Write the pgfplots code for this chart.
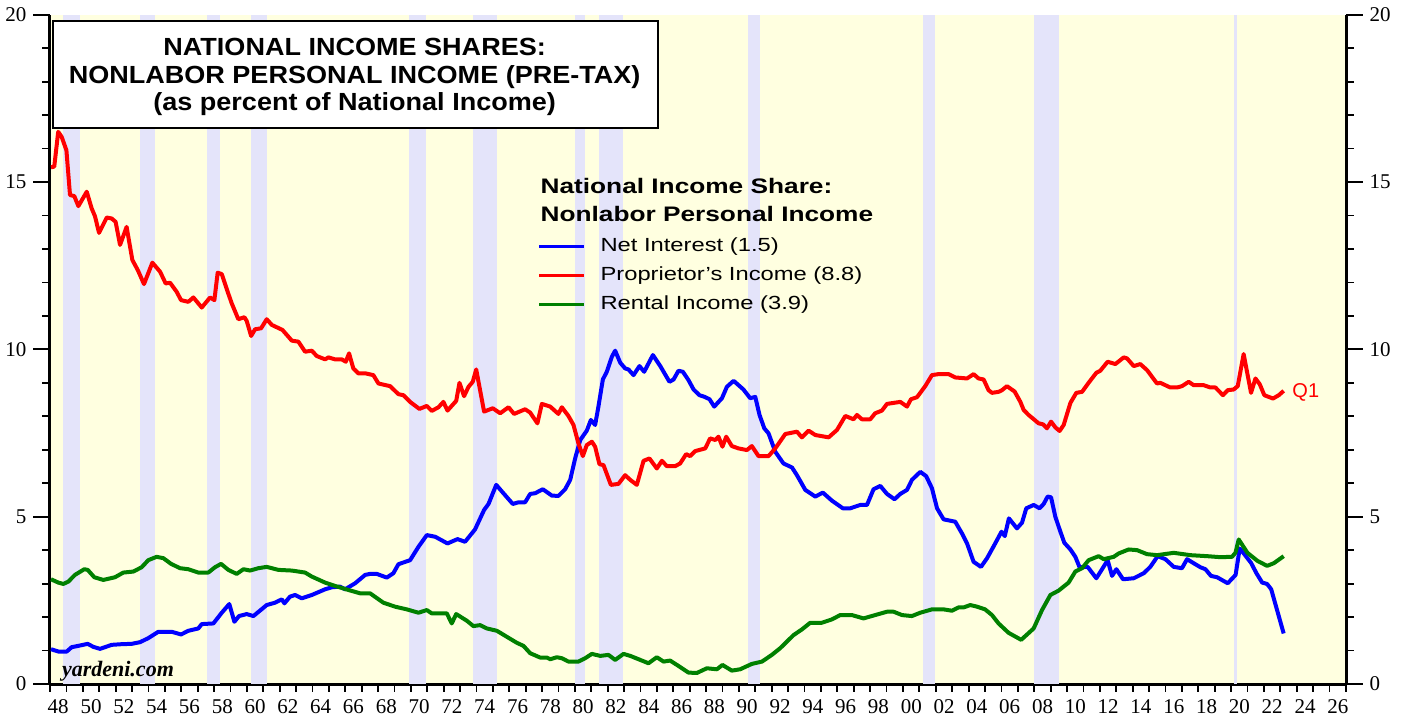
\documentclass[border=0pt]{standalone}
\usepackage{fontspec}
\setmainfont{Liberation Sans}
\newfontfamily\tickfont{Liberation Serif}
\newfontfamily\legfont[FakeStretch=1.25]{Liberation Sans}
\newfontfamily\titlefont[FakeStretch=1.09]{Liberation Sans}
\usepackage{pgfplots}
\pgfplotsset{compat=1.18}
\definecolor{bgyellow}{RGB}{255,255,224}
\definecolor{recess}{RGB}{228,228,250}
\definecolor{ngreen}{RGB}{0,128,0}

\pgfplotsset{
  base/.style={
    scale only axis, width=648pt, height=334.65pt,
    xmin=1948, xmax=2027, ymin=0, ymax=20,
    ytick={0,5,10,15,20}, minor y tick num=4,
    tick align=outside,
    major tick length=8.3pt, minor tick length=3.75pt,
    tick style={black, line width=0.9pt},
    axis line style={line width=1.5pt},
    yticklabel style={font=\tickfont\fontsize{10.5}{12}\selectfont},
    /pgf/number format/assume math mode=true,
  },
  recbar/.style={draw=none, fill=recess, forget plot},
}

\begin{document}
\begin{tikzpicture}
\begin{axis}[base,
    axis x line*=bottom, axis y line*=left,
    axis background/.style={fill=bgyellow},
    xtick={1948.5,1950.5,...,2026.5},
    xticklabels={48,50,52,54,56,58,60,62,64,66,68,70,72,74,76,78,80,82,84,86,88,90,92,94,96,98,00,02,04,06,08,10,12,14,16,18,20,22,24,26},
    major x tick style={draw=none},
    minor xtick={1948,1949,...,2027},
    xticklabel style={font=\tickfont\fontsize{10.5}{12}\selectfont, yshift=4pt},
    legend style={at={(0.3765,0.6668)}, anchor=north west, draw=none, fill=none,
      inner sep=0pt, outer sep=0pt, row sep=5.5pt, column sep=7.5pt,
      font=\legfont\fontsize{9.5}{11}\selectfont,
      nodes={inner sep=0pt, text height=7pt, text depth=2pt}},
    legend cell align=left,
    legend image code/.code={\draw[#1, line width=1.3pt] (0pt,0pt) -- (22.5pt,0pt);},
  ]
% recessions
\addplot[recbar] coordinates {(1948.81,20) (1949.83,20)} \closedcycle;
\addplot[recbar] coordinates {(1953.49,20) (1954.40,20)} \closedcycle;
\addplot[recbar] coordinates {(1957.59,20) (1958.37,20)} \closedcycle;
\addplot[recbar] coordinates {(1960.26,20) (1961.21,20)} \closedcycle;
\addplot[recbar] coordinates {(1969.91,20) (1970.91,20)} \closedcycle;
\addplot[recbar] coordinates {(1973.81,20) (1975.24,20)} \closedcycle;
\addplot[recbar] coordinates {(1980.01,20) (1980.62,20)} \closedcycle;
\addplot[recbar] coordinates {(1981.49,20) (1982.92,20)} \closedcycle;
\addplot[recbar] coordinates {(1990.52,20) (1991.29,20)} \closedcycle;
\addplot[recbar] coordinates {(2001.19,20) (2001.96,20)} \closedcycle;
\addplot[recbar] coordinates {(2007.96,20) (2009.53,20)} \closedcycle;
\addplot[recbar] coordinates {(2020.20,20) (2020.36,20)} \closedcycle;

% Net interest
\addplot[blue, line width=2pt, line join=round] coordinates {
(1948.06,1.04)(1948.51,0.97)(1949.02,0.97)(1949.32,1.1)(1949.73,1.14)(1950.3,1.2)(1950.64,1.11)(1951.05,1.05)(1951.76,1.17)(1952.37,1.19)(1952.98,1.2)(1953.49,1.25)(1953.99,1.37)(1954.6,1.56)(1955.42,1.56)(1955.99,1.48)(1956.43,1.59)(1957.04,1.66)(1957.25,1.79)(1957.96,1.81)(1958.47,2.13)(1958.93,2.39)(1959.24,1.86)(1959.52,2.03)(1959.99,2.09)(1960.4,2.03)(1961.21,2.36)(1961.72,2.43)(1962.13,2.53)(1962.29,2.41)(1962.63,2.61)(1962.94,2.66)(1963.35,2.56)(1963.96,2.66)(1964.77,2.83)(1965.18,2.89)(1965.68,2.91)(1965.99,2.83)(1966.6,3.01)(1967.21,3.26)(1967.51,3.29)(1967.92,3.29)(1968.53,3.18)(1968.93,3.31)(1969.24,3.58)(1969.95,3.7)(1970.46,4.1)(1970.97,4.45)(1971.48,4.4)(1972.23,4.2)(1972.84,4.33)(1973.3,4.25)(1973.91,4.62)(1974.46,5.2)(1974.73,5.38)(1975.2,5.95)(1975.64,5.7)(1976.21,5.38)(1976.56,5.43)(1976.96,5.43)(1977.27,5.68)(1977.57,5.7)(1978.04,5.82)(1978.59,5.63)(1978.99,5.62)(1979.4,5.82)(1979.71,6.1)(1980.01,6.74)(1980.32,7.29)(1980.72,7.57)(1980.97,7.89)(1981.23,7.74)(1981.43,8.29)(1981.7,9.1)(1981.94,9.33)(1982.25,9.78)(1982.45,9.96)(1982.76,9.6)(1983.06,9.43)(1983.26,9.4)(1983.57,9.23)(1983.93,9.5)(1984.22,9.33)(1984.75,9.83)(1985.2,9.5)(1985.76,9.03)(1986.01,9.1)(1986.31,9.36)(1986.58,9.33)(1986.92,9.08)(1987.23,8.8)(1987.59,8.63)(1987.9,8.58)(1988.2,8.51)(1988.49,8.29)(1988.96,8.54)(1989.26,8.88)(1989.67,9.06)(1990.27,8.8)(1990.68,8.54)(1990.99,8.58)(1991.25,8.04)(1991.54,7.64)(1991.8,7.49)(1992.21,6.94)(1992.71,6.59)(1993.23,6.47)(1993.53,6.24)(1994.04,5.8)(1994.65,5.6)(1995.11,5.72)(1995.66,5.48)(1996.33,5.25)(1996.78,5.25)(1997.39,5.35)(1997.8,5.35)(1998.2,5.82)(1998.61,5.92)(1999.02,5.68)(1999.48,5.52)(1999.83,5.68)(2000.24,5.8)(2000.54,6.1)(2001.05,6.34)(2001.41,6.21)(2001.76,5.85)(2002.07,5.25)(2002.47,4.92)(2003.18,4.85)(2003.59,4.5)(2003.9,4.2)(2004.3,3.65)(2004.75,3.5)(2005.12,3.76)(2005.56,4.15)(2006.0,4.55)(2006.2,4.42)(2006.45,4.95)(2006.94,4.65)(2007.25,4.82)(2007.51,5.25)(2007.96,5.35)(2008.32,5.25)(2008.57,5.38)(2008.81,5.6)(2009.02,5.58)(2009.28,5.0)(2009.59,4.55)(2009.83,4.22)(2010.2,4.02)(2010.5,3.8)(2010.76,3.49)(2011.25,3.5)(2011.78,3.16)(2012.13,3.43)(2012.47,3.7)(2012.74,3.23)(2013.0,3.43)(2013.41,3.13)(2014.06,3.16)(2014.67,3.31)(2015.07,3.5)(2015.52,3.82)(2015.99,3.73)(2016.5,3.5)(2017.0,3.46)(2017.31,3.73)(2017.71,3.61)(2018.12,3.49)(2018.43,3.43)(2018.77,3.23)(2019.14,3.19)(2019.79,3.01)(2020.27,3.26)(2020.52,4.05)(2020.8,3.88)(2021.21,3.62)(2021.54,3.31)(2021.89,3.03)(2022.19,2.99)(2022.44,2.83)(2023.2,1.51)
};
\addlegendentry{Net Interest (1.5)}

% Proprietor's income
\addplot[red, line width=2pt, line join=round] coordinates {
(1948.06,15.44)(1948.26,15.46)(1948.5,16.5)(1948.71,16.35)(1949.0,15.95)(1949.22,14.61)(1949.48,14.58)(1949.73,14.28)(1950.24,14.71)(1950.54,14.21)(1950.74,13.98)(1950.99,13.48)(1951.46,13.94)(1951.76,13.91)(1952.0,13.81)(1952.27,13.12)(1952.67,13.66)(1953.02,12.67)(1953.35,12.37)(1953.73,11.95)(1954.24,12.59)(1954.71,12.32)(1955.05,11.97)(1955.32,11.99)(1955.72,11.72)(1955.99,11.47)(1956.43,11.42)(1956.74,11.55)(1957.25,11.25)(1957.76,11.55)(1958.02,11.47)(1958.22,12.29)(1958.47,12.25)(1958.83,11.72)(1959.08,11.37)(1959.48,10.9)(1959.85,10.96)(1959.99,10.85)(1960.26,10.4)(1960.5,10.6)(1960.87,10.63)(1961.21,10.9)(1961.52,10.73)(1962.17,10.58)(1962.74,10.26)(1963.14,10.23)(1963.55,9.93)(1963.96,9.96)(1964.26,9.8)(1964.77,9.7)(1964.97,9.76)(1965.38,9.7)(1965.79,9.7)(1966.03,9.63)(1966.23,9.88)(1966.49,9.43)(1966.8,9.28)(1967.25,9.28)(1967.71,9.23)(1968.02,8.98)(1968.73,8.9)(1969.24,8.66)(1969.54,8.63)(1969.95,8.43)(1970.52,8.22)(1970.97,8.31)(1971.27,8.16)(1971.68,8.27)(1971.98,8.43)(1972.23,8.17)(1972.76,8.46)(1972.96,9.0)(1973.24,8.6)(1973.51,8.88)(1973.77,9.03)(1973.98,9.4)(1974.46,8.14)(1974.99,8.24)(1975.44,8.09)(1975.95,8.27)(1976.29,8.07)(1976.96,8.21)(1977.27,8.11)(1977.71,7.79)(1977.98,8.37)(1978.49,8.29)(1978.99,8.07)(1979.2,8.27)(1979.6,8.01)(1979.91,7.74)(1980.21,7.19)(1980.48,6.81)(1980.72,7.14)(1981.03,7.24)(1981.23,7.09)(1981.49,6.57)(1981.74,6.54)(1982.19,5.95)(1982.65,5.98)(1983.06,6.24)(1983.37,6.1)(1983.77,5.95)(1984.18,6.67)(1984.54,6.74)(1984.99,6.44)(1985.3,6.67)(1985.6,6.51)(1986.11,6.51)(1986.41,6.59)(1986.78,6.87)(1987.02,6.81)(1987.33,6.96)(1987.94,7.04)(1988.24,7.34)(1988.55,7.29)(1988.75,7.39)(1988.99,7.09)(1989.22,7.39)(1989.56,7.11)(1989.97,7.04)(1990.48,6.99)(1990.78,7.11)(1991.19,6.81)(1991.8,6.81)(1992.21,7.04)(1992.82,7.47)(1993.53,7.54)(1993.83,7.37)(1994.24,7.57)(1994.65,7.44)(1995.46,7.37)(1995.97,7.59)(1996.48,8.01)(1996.98,7.91)(1997.19,8.04)(1997.49,7.91)(1998.0,7.91)(1998.3,8.09)(1998.71,8.17)(1999.02,8.37)(1999.83,8.43)(2000.24,8.29)(2000.48,8.51)(2000.85,8.57)(2001.35,8.9)(2001.76,9.23)(2002.16,9.26)(2002.77,9.26)(2003.18,9.16)(2003.9,9.13)(2004.3,9.26)(2004.6,9.13)(2004.91,9.1)(2005.21,8.78)(2005.42,8.7)(2005.82,8.73)(2006.03,8.78)(2006.33,8.9)(2006.8,8.74)(2007.15,8.43)(2007.35,8.19)(2007.65,8.04)(2008.26,7.79)(2008.53,7.76)(2008.77,7.64)(2009.02,7.84)(2009.28,7.67)(2009.54,7.56)(2009.79,7.74)(2010.2,8.4)(2010.56,8.7)(2010.91,8.73)(2011.31,9.0)(2011.78,9.3)(2012.02,9.36)(2012.47,9.63)(2012.94,9.56)(2013.45,9.76)(2013.65,9.73)(2014.06,9.5)(2014.46,9.56)(2014.87,9.38)(2015.48,8.98)(2015.68,9.0)(2016.29,8.86)(2016.7,8.86)(2017.0,8.9)(2017.41,9.03)(2017.71,8.93)(2018.32,8.93)(2018.73,8.86)(2019.04,8.86)(2019.5,8.63)(2019.79,8.78)(2020.15,8.8)(2020.4,8.9)(2020.76,9.86)(2021.21,8.7)(2021.48,9.13)(2021.74,8.96)(2022.02,8.63)(2022.55,8.53)(2022.9,8.63)(2023.2,8.76)
};
\addlegendentry{Proprietor’s Income (8.8)}

% Rental income
\addplot[ngreen, line width=2pt, line join=round] coordinates {
(1948.06,3.13)(1948.51,3.03)(1948.81,2.99)(1949.12,3.06)(1949.52,3.26)(1950.09,3.43)(1950.3,3.41)(1950.7,3.19)(1951.25,3.11)(1951.96,3.19)(1952.47,3.33)(1953.08,3.36)(1953.59,3.49)(1953.99,3.7)(1954.5,3.8)(1954.91,3.76)(1955.38,3.59)(1955.93,3.46)(1956.43,3.43)(1957.04,3.33)(1957.65,3.33)(1958.06,3.49)(1958.43,3.59)(1958.87,3.41)(1959.38,3.29)(1959.79,3.43)(1960.2,3.39)(1960.7,3.46)(1961.21,3.5)(1961.92,3.41)(1962.74,3.39)(1963.55,3.33)(1963.96,3.21)(1964.77,3.03)(1965.38,2.93)(1966.19,2.81)(1966.9,2.71)(1967.51,2.71)(1968.32,2.43)(1969.04,2.31)(1969.75,2.23)(1970.46,2.13)(1970.97,2.21)(1971.27,2.11)(1972.19,2.11)(1972.49,1.81)(1972.76,2.09)(1973.41,1.89)(1973.81,1.73)(1974.22,1.76)(1974.63,1.66)(1975.24,1.59)(1975.85,1.41)(1976.46,1.23)(1976.86,1.14)(1977.27,0.92)(1977.88,0.79)(1978.29,0.79)(1978.49,0.74)(1978.9,0.8)(1979.2,0.77)(1979.6,0.67)(1980.21,0.67)(1980.62,0.77)(1981.03,0.9)(1981.54,0.84)(1982.04,0.87)(1982.45,0.72)(1982.96,0.9)(1983.37,0.84)(1983.98,0.72)(1984.48,0.62)(1984.99,0.8)(1985.4,0.67)(1985.8,0.7)(1986.31,0.54)(1986.92,0.34)(1987.43,0.33)(1988.04,0.47)(1988.65,0.44)(1988.99,0.57)(1989.56,0.4)(1990.07,0.44)(1990.78,0.6)(1991.4,0.67)(1992.0,0.87)(1992.51,1.07)(1993.32,1.46)(1993.83,1.63)(1994.34,1.83)(1995.05,1.83)(1995.66,1.93)(1996.17,2.06)(1996.88,2.06)(1997.59,1.96)(1998.3,2.06)(1999.02,2.16)(1999.42,2.16)(1999.93,2.06)(2000.54,2.03)(2001.05,2.13)(2001.76,2.23)(2002.47,2.23)(2002.98,2.19)(2003.39,2.29)(2003.7,2.29)(2004.1,2.36)(2004.51,2.31)(2005.0,2.23)(2005.42,2.06)(2005.82,1.81)(2006.43,1.53)(2007.2,1.32)(2007.96,1.66)(2008.47,2.21)(2008.98,2.66)(2009.48,2.79)(2010.09,3.03)(2010.5,3.36)(2010.91,3.46)(2011.31,3.7)(2011.92,3.82)(2012.23,3.73)(2012.84,3.8)(2013.14,3.9)(2013.75,4.02)(2014.26,4.0)(2014.87,3.88)(2015.48,3.85)(2016.5,3.92)(2017.51,3.85)(2018.53,3.82)(2019.34,3.79)(2020.05,3.8)(2020.26,3.92)(2020.46,4.32)(2020.99,3.92)(2021.6,3.68)(2022.19,3.53)(2022.6,3.61)(2023.2,3.82)
};
\addlegendentry{Rental Income (3.9)}

% title box
\node[draw=black, line width=1pt, fill=white, minimum width=302.5pt, minimum height=53.5pt,
      inner sep=0pt, anchor=north west] at (axis cs:1948.12,19.84) {};
\begin{scope}[every node/.style={inner sep=0pt, anchor=base, font=\titlefont\bfseries\fontsize{12.4}{14}\selectfont}]
\node at (axis cs:1966.57,18.79) {NATIONAL INCOME SHARES:};
\node at (axis cs:1966.57,17.95) {NONLABOR PERSONAL INCOME (PRE-TAX)};
\node at (axis cs:1966.57,17.15) {(as percent of National Income)};
\end{scope}

% legend heading
\node[inner sep=0pt, anchor=base west, font=\legfont\bfseries\fontsize{10.5}{12}\selectfont]
  at (axis cs:1977.88,14.67) {National Income Share:};
\node[inner sep=0pt, anchor=base west, font=\legfont\bfseries\fontsize{10.5}{12}\selectfont]
  at (axis cs:1977.88,13.81) {Nonlabor Personal Income};

\node[inner sep=0pt, anchor=base west, text=red, font=\fontsize{10}{12}\selectfont]
  at (axis cs:2023.71,8.55) {Q1};
\node[inner sep=0pt, anchor=base west, font=\tickfont\bfseries\itshape\fontsize{11}{13}\selectfont]
  at (axis cs:1948.71,0.22) {yardeni.com};
\end{axis}

% right-hand scale
\begin{axis}[base, axis x line=none, axis y line*=right]
\end{axis}

\pgfresetboundingbox
\path ([shift={(-25pt,-16.5pt)}]current axis.south west)
  rectangle ([shift={(29.5pt,7.35pt)}]current axis.north east);
\end{tikzpicture}
\end{document}
